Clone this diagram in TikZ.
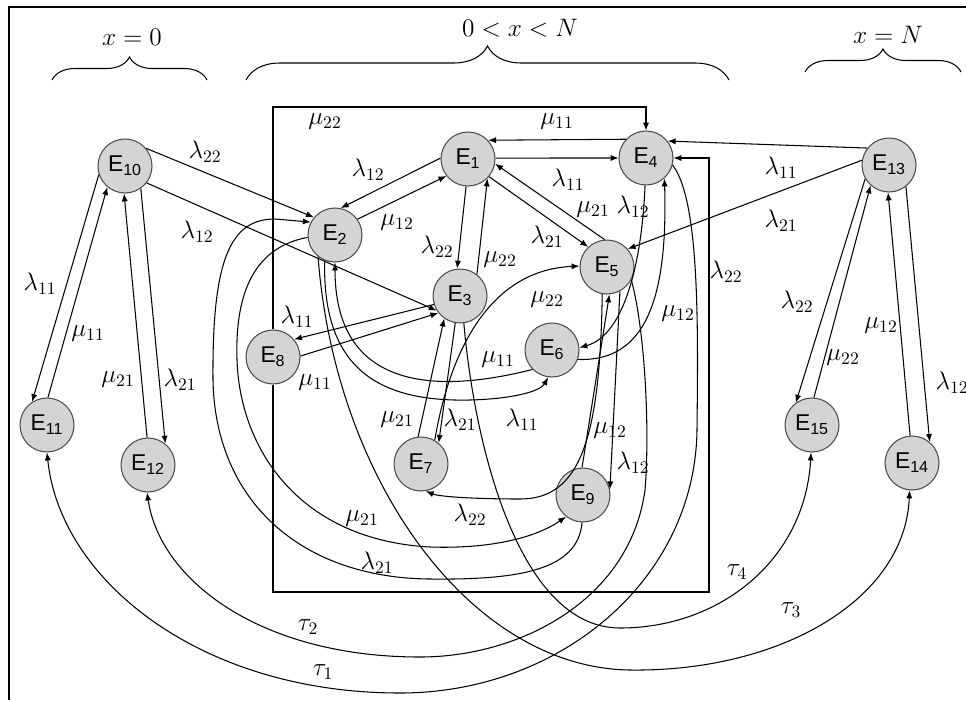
\documentclass[tikz,border=0pt]{standalone}
\usepackage{fontspec}
\newfontfamily\statefont{Liberation Sans}
\usetikzlibrary{arrows.meta,decorations.pathreplacing}

\begin{document}
\begin{tikzpicture}[x=0.02cm, y=-0.02cm, every node/.style={font=\Large},
	state/.style={circle, draw=black!70, fill=black!17, minimum size=1.08cm, inner sep=0pt,
		font=\statefont\fontsize{13}{15}\selectfont},
	>={Latex[length=4.5pt,width=3.5pt]}, line width=0.6pt]
	\useasboundingbox (0,0) rectangle (966,700);
	\draw (9,700) |- (966,7);
	
	%---------------- BOUNDARY BRACES ----------------
	\draw[decorate, decoration={brace, amplitude=0.46cm}] (52,80) -- (207,80);
	\draw[decorate, decoration={brace, amplitude=0.68cm}] (246,80) -- (729,80);
	\draw[decorate, decoration={brace, amplitude=0.46cm}] (805,72) -- (961,72);
	
	%---------------- STATES ----------------
	\foreach \P/\X/\Y in {1/468/159, 2/335/235, 3/460/296, 4/646/158, 5/607/267,
		6/552/350, 7/421/464, 8/273/357, 9/583/495, 10/125/166, 11/47/425,
		12/148/465, 13/889/165, 14/912/463, 15/812/425} {
		\node[state] (E\P) at (\X,\Y) {E\textsubscript{\P}};
	}
	
	% corners of the routed edges E8 -> E4
	\coordinate (tl) at (273,107);
	\coordinate (tr) at (646,107);
	\coordinate (bl) at (273,592);
	\coordinate (br) at (709,592);
	\coordinate (rt) at (709,158);
	
	%---------------- LEFT: x = 0 ----------------
	\draw[->] (E10.198) -- (E11.123);
	\draw[->] (E11.88) -- (E10.230);
	\draw[->] (E12.92) -- (E10.268);
	\draw[->] (E10.-55) -- (E12.51);
	\draw[->] (E10.40) -- (E2.140);
	\draw[->] (E10.-38) -- (E3.212);
	
	%---------------- RIGHT: x = N ----------------
	\draw[->] (E13.142) -- (E4.38);
	\draw[->] (E13.170) -- (E5.41);
	\draw[->] (E13.210) -- (E15.126);
	\draw[->] (E15.86) -- (E13.228);
	\draw[->] (E14.94) -- (E13.268);
	\draw[->] (E13.-52) -- (E14.50);
	
	%---------------- MIDDLE: 0 < x < N ----------------
	\draw[->] (E1.178) -- (E2.78);
	\draw[->] (E2.35) -- (E1.218);
	\draw[->] (E1.266) -- (E3.96);
	\draw[->] (E3.52) -- (E1.-45);
	\draw[->] (E1.2) -- (E4.180);
	\draw[->] (E4.137) -- (E1.43);
	\draw[->] (E5.95) -- (E1.-10);
	\draw[->] (E1.-40) -- (E5.133);
	\draw[->] (E3.198) -- (E8.40);
	\draw[->] (E8.2) -- (E3.218);
	\draw[->] (E7.96) -- (E3.235);
	\draw[->] (E3.-100) -- (E7.50);
	\draw[->] (E9.92) -- (E5.-85);
	\draw[->] (E5.-62) -- (E9.12);
	
	% curved ones
	\draw[->] (E4.-92) .. controls (642,260) and (625,335) .. (E6.5);
	\draw[->] (E6.-20) .. controls (645,362) and (668,300) .. (E4.-48);
	\draw[->] (E5.-100) .. controls (600,440) and (580,499) .. (520,499)
		.. controls (480,499) and (440,497) .. (E7.-80);
	\draw[->] (E7.60) .. controls (450,350) and (490,270) .. (E5.178);
	\draw[->] (E6.225) .. controls (420,398) and (335,380) .. (E2.-90);
	\draw[->] (E2.-112) .. controls (322,370) and (380,402) .. (470,400)
		.. controls (510,399) and (540,392) .. (E6.-98);
	\draw[->] (E2.185) .. controls (250,248) and (235,300) .. (237,360)
		.. controls (240,450) and (300,540) .. (430,547)
		.. controls (490,549) and (535,538) .. (E9.232);
	\draw[->] (E9.-92) .. controls (578,570) and (520,580) .. (430,579)
		.. controls (300,578) and (215,500) .. (213,380)
		.. controls (212,260) and (230,219) .. (275,219) -- (E2.152);
	
	% routed round the middle
	\draw[->] (E8.north) -- (tl) -- (tr) -- (E4.north);
	\draw[->] (E8.south) -- (bl) -- (br) -- (rt) -- (E4.east);
	
	%---------------- TAU TRANSITIONS ----------------
	\draw[->] (E2.-128) .. controls (335,480) and (470,668) .. (630,670)
		.. controls (780,672) and (905,600) .. (E14.-95);
	\draw[->] (E3.-82) .. controls (475,450) and (520,628) .. (620,628)
		.. controls (720,628) and (805,560) .. (E15.-92);
	\draw[->] (E5.-28) .. controls (645,330) and (650,430) .. (645,490)
		.. controls (630,600) and (520,657) .. (420,657)
		.. controls (260,657) and (160,580) .. (E12.-92);
	\draw[->] (E4.-15) .. controls (700,200) and (698,330) .. (697,430)
		.. controls (695,580) and (560,693) .. (400,693)
		.. controls (200,693) and (60,580) .. (E11.-90);
	
	%---------------- LABELS ----------------
	\foreach \X/\Y/\N [count=\i] in {
		132/37/{$x=0$}, 520/28/{$0<x<N$}, 888/35/{$x=N$},
		40/284/$\lambda_{11}$, 88/334/$\mu_{11}$, 118/380/$\mu_{21}$, 180/380/$\lambda_{21}$,
		205/152/$\lambda_{22}$, 197/232/$\lambda_{12}$,
		781/168/$\lambda_{11}$, 781/221/$\lambda_{21}$, 797/302/$\lambda_{22}$,
		843/358/$\mu_{22}$, 881/326/$\mu_{12}$, 952/383/$\lambda_{12}$,
		325/122/$\mu_{22}$, 557/122/$\mu_{11}$, 368/170/$\lambda_{12}$, 397/223/$\mu_{12}$,
		437/247/$\lambda_{22}$, 500/260/$\mu_{22}$, 568/180/$\lambda_{11}$, 593/210/$\mu_{21}$,
		633/207/$\lambda_{12}$, 547/237/$\lambda_{21}$, 726/272/$\lambda_{22}$, 678/314/$\mu_{12}$,
		297/317/$\lambda_{11}$, 315/383/$\mu_{11}$, 547/300/$\mu_{22}$, 498/360/$\mu_{11}$,
		522/420/$\lambda_{11}$, 397/420/$\mu_{21}$, 460/420/$\lambda_{21}$,
		610/431/$\mu_{12}$, 633/463/$\lambda_{12}$, 470/515/$\lambda_{22}$,
		362/519/$\mu_{21}$, 377/563/$\lambda_{21}$,
		308/627/$\tau_2$, 323/672/$\tau_1$, 737/572/$\tau_4$, 791/610/$\tau_3$} {
		\node (lab\i) at (\X,\Y) {\N};
	}
\end{tikzpicture}
\end{document}
